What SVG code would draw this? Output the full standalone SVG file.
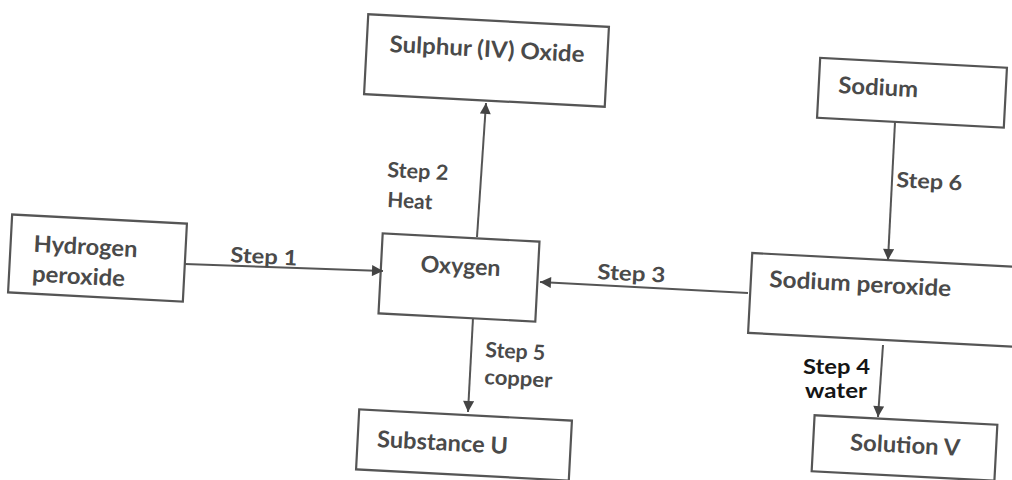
<svg xmlns="http://www.w3.org/2000/svg" width="1012" height="480" viewBox="0 0 1012 480">
<style>
.box{fill:#fff;stroke:#555;stroke-width:2.2}
.t{font-family:Lato,"Open Sans",sans-serif;font-weight:bold;font-size:23px;fill:#4a4a4a}
.lbl{font-family:Lato,"Open Sans",sans-serif;font-weight:bold;font-size:21px;fill:#4a4a4a}
.dark{fill:#151515;font-size:20px}
.c{stroke:#555;stroke-width:2;fill:none;marker-end:url(#ah)}
</style>
<defs>
<marker id="ah" viewBox="0 0 10 10" refX="10" refY="5" markerWidth="12" markerHeight="11" markerUnits="userSpaceOnUse" orient="auto">
<path d="M0,0 L10,5 L0,10 z" fill="#444"/>
</marker>
</defs>
<rect width="1012" height="480" fill="#fff"/>
<g id="n-hydrogen" transform="rotate(3,97,258)">
<rect class="box" x="10" y="219" width="175" height="78"/>
<text class="t" x="33" y="255" textLength="104" lengthAdjust="spacingAndGlyphs">Hydrogen</text>
<text class="t" x="33" y="285" textLength="93" lengthAdjust="spacingAndGlyphs">peroxide</text>
</g>
<g id="n-sulphur" transform="rotate(3,486.5,60.5)">
<rect class="box" x="366" y="20.5" width="241" height="80"/>
<text class="t" x="389" y="57" textLength="195" lengthAdjust="spacingAndGlyphs">Sulphur (IV) Oxide</text>
</g>
<g id="n-oxygen" transform="rotate(3,459,277.5)">
<rect class="box" x="380.5" y="237.5" width="157" height="80"/>
<text class="t" x="420" y="274" textLength="80" lengthAdjust="spacingAndGlyphs">Oxygen</text>
</g>
<g id="n-sodium" transform="rotate(3,912,92.75)">
<rect class="box" x="818.5" y="62.75" width="187" height="60"/>
<text class="t" x="838" y="97" textLength="80" lengthAdjust="spacingAndGlyphs">Sodium</text>
</g>
<g id="n-sodium-peroxide" transform="rotate(3,885,300)">
<rect class="box" x="750" y="260" width="270" height="80"/>
<text class="t" x="768.5" y="293" textLength="182" lengthAdjust="spacingAndGlyphs">Sodium peroxide</text>
</g>
<g id="n-substance-u" transform="rotate(3,464,445)">
<rect class="box" x="357.5" y="415" width="213" height="60"/>
<text class="t" x="377" y="451.5" textLength="131" lengthAdjust="spacingAndGlyphs">Substance U</text>
</g>
<g id="n-solution-v" transform="rotate(3,904.5,448)">
<rect class="box" x="813" y="420" width="183" height="56"/>
<text class="t" x="850" y="453" textLength="110" lengthAdjust="spacingAndGlyphs">Solution V</text>
</g>
<g id="connectors">
<line class="c" x1="185" y1="264" x2="383" y2="271"/>
<line class="c" x1="477" y1="237" x2="486" y2="103"/>
<line class="c" x1="748" y1="293" x2="540" y2="282"/>
<line class="c" x1="473" y1="318" x2="468" y2="412"/>
<line class="c" x1="895" y1="122" x2="888" y2="260"/>
<line class="c" x1="883" y1="345" x2="878" y2="417"/>
</g>
<g id="labels">
<text class="lbl" x="230" y="262" transform="rotate(3,230,262)" textLength="67" lengthAdjust="spacingAndGlyphs">Step 1</text>
<text class="lbl" x="387" y="177" transform="rotate(3,387,177)" textLength="61" lengthAdjust="spacingAndGlyphs">Step 2</text>
<text class="lbl" x="387" y="207" transform="rotate(3,387,207)" textLength="45" lengthAdjust="spacingAndGlyphs">Heat</text>
<text class="lbl" x="597" y="279" transform="rotate(3,597,279)" textLength="68" lengthAdjust="spacingAndGlyphs">Step 3</text>
<text class="lbl" x="485" y="357" transform="rotate(3,485,357)" textLength="60" lengthAdjust="spacingAndGlyphs">Step 5</text>
<text class="lbl" x="484" y="384" transform="rotate(3,484,384)" textLength="68" lengthAdjust="spacingAndGlyphs">copper</text>
<text class="lbl" x="896" y="187" transform="rotate(3,896,187)" textLength="66" lengthAdjust="spacingAndGlyphs">Step 6</text>
<text class="lbl dark" x="803" y="374" textLength="67" lengthAdjust="spacingAndGlyphs">Step 4</text>
<text class="lbl dark" x="805" y="398" textLength="62" lengthAdjust="spacingAndGlyphs">water</text>
</g>
</svg>
